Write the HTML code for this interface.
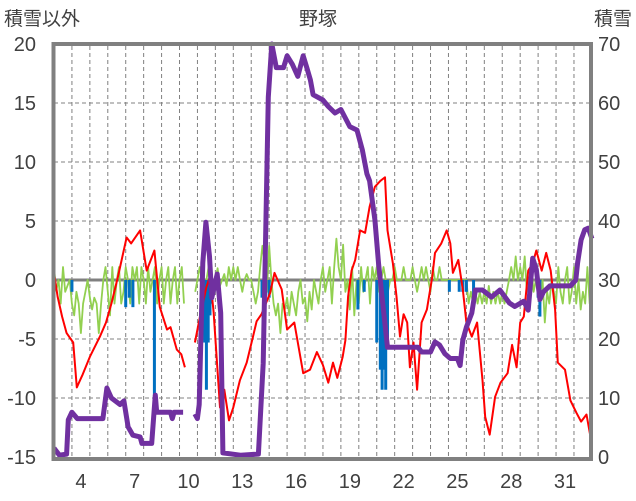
<!DOCTYPE html>
<html><head><meta charset="utf-8"><style>
html,body{margin:0;padding:0;background:#fff;}
svg{display:block;font-family:"Liberation Sans","Noto Sans CJK JP",sans-serif;}
</style></head><body>
<svg id="chart" width="636" height="501" viewBox="0 0 636 501" xmlns="http://www.w3.org/2000/svg">
<rect width="636" height="501" fill="#fff"/>
<text x="318" y="25" font-size="19" text-anchor="middle" fill="#404040">野塚</text>
<text x="4" y="25" font-size="19" fill="#404040">積雪以外</text>
<text x="632" y="25" font-size="19" text-anchor="end" fill="#404040">積雪</text>
<g id="grid"></g>
<g id="ticks"></g>
<g id="series"></g>
<rect x="53.5" y="44" width="537.5" height="415" fill="none" stroke="#808080" stroke-width="4"/>
</svg>
<script>
const leftTicks=[-15,-10,-5,0,5,10,15,20];
const rightTicks=[0,10,20,30,40,50,60,70];
const xTickLabels=[4,7,10,13,16,19,22,25,28,31];
const redT=[0,0.2,0.45,0.7,1.07,1.27,1.6,2.0,2.56,2.9,3.2,3.57,4.05,4.3,4.8,5.17,5.6,5.9,6.3,6.5,6.85,7.1,7.3,null,7.86,8.14,8.5,8.7,8.9,9.26,9.5,9.76,10.0,10.37,10.75,11.1,11.3,11.57,12.05,12.3,12.7,13.0,13.4,13.9,14.28,14.66,15.0,15.3,15.56,15.8,16.1,16.25,16.4,16.6,16.8,17.07,17.35,17.6,17.9,18.2,18.46,18.6,18.9,19.1,19.3,19.5,19.7,19.85,20.05,20.25,20.5,20.8,21.1,21.25,21.6,21.9,22.1,22.25,22.55,22.8,23.0,23.3,23.6,23.9,24.05,24.3,24.6,24.9,25.3,25.55,25.8,26.0,26.2,26.45,26.7,26.9,27.2,27.45,27.7,27.95,28.1,28.5,28.8,29.15,29.4,29.7,29.9,30.0];
const redV=[0.6,-1.4,-3.1,-4.5,-5.3,-9.1,-8,-6.5,-4.8,-3.6,-2,0.3,3.6,3.1,4.2,0.8,2.5,-2.3,-4.2,-4,-5.9,-6.3,-7.4,null,-5.3,-3.1,-0.6,0.3,-2.7,-10.8,-9.3,-11.9,-10.8,-8.5,-7,-4.8,-3.5,-2.9,-1.1,0.6,-0.8,-4.2,-3.6,-7.9,-7.6,-6.1,-7.2,-8.7,-7,-8.3,-6.5,-5.1,-1.4,0.8,1.7,4.2,4,6.2,7.9,8.4,8.7,4.2,1.4,-1.4,-4.8,-2.9,-3.6,-7.4,-5.3,-9.3,-3.6,-2.5,0.3,2.3,3.1,4.2,3.1,0.6,1.7,-0.8,-3.6,-4.8,-3.6,-8.5,-11.6,-13.1,-9.9,-8.7,-7.9,-5.5,-7.4,-3.6,-3.1,0.8,1.4,2.5,0.8,2.3,0.8,-2.5,-7,-7.6,-10.2,-11.3,-12,-11.4,-13.1,-13.5];
const snowT=[0,0.3,0.7,0.8,1.0,1.3,2.73,2.95,3.2,3.68,3.9,4.13,4.4,4.8,4.9,5.45,5.65,5.73,6.5,6.6,6.7,7.2,null,7.86,8.0,8.1,8.3,8.47,8.67,8.8,9.1,9.3,9.42,10.4,11.4,11.67,11.95,12.15,12.4,12.8,13.0,13.3,13.6,13.9,14.1,14.3,14.45,15.0,15.3,15.67,16.0,16.5,16.9,17.2,17.45,17.6,17.9,18.1,18.3,18.5,18.6,20.3,20.5,21.0,21.25,21.5,21.8,22.1,22.5,22.65,22.8,23.0,23.3,23.5,23.9,24.4,24.87,25.4,25.7,26.2,26.45,26.7,26.9,27.1,27.3,27.65,28.8,29.1,29.2,29.4,29.6,29.8,30.0];
const snowV=[1.5,0.3,0.5,6.3,7.6,6.5,6.5,11.7,10,8.9,9.5,5.1,3.7,3.4,2.3,2.3,10.5,7.6,7.6,6.5,7.6,7.6,null,7.3,6.5,8.9,32.9,39.8,34,27,31,24.4,0.7,0.3,0.5,15.9,61,70,66,66,68,66.5,64.5,68,66,63.9,61.4,60.5,59.4,58.3,58.9,56,55.4,52,48,46.8,40.2,32.9,27,21.4,18.6,18.6,17.8,17.8,19.5,19,17.5,16.7,16.7,15.5,19.8,22,24.4,28.3,28.3,27.1,28.3,26.1,25.5,26.4,24.9,33.7,31.8,26.7,28,29,29,30,32.9,36.8,38.5,38.8,37];
const greenV=[1.1,-0.9,0,-2,1.1,-1,-0.5,0,
-2,-3,-1,-2,-4.5,-2,-1,0,
-1.5,-2.5,-1.5,-2,-4.5,-2,0,1.1,
-1,-3,1.1,-2,0,1.1,-2,-1,
1.1,0,-2,1.1,0,1.1,-2,1.1,
0,-2,1.1,-1,0,1.1,-2,0,
1.1,-2,0,1.1,-2,0,1.1,-2,
0,1.1,-2,null,null,null,null,-1,
0,1.1,0,-1,0,1.1,0,-0.5,
0,1,-0.5,0,0.5,-0.5,1.1,0,
1.1,0,1.1,0,-1,0,0.5,0,
0,-1,-2,-1,1.1,2.9,1.5,-1,
2.9,0,-2,-3,-2,-4.5,-2,-2.5,
-1.5,-3,-1,-2,-3,-1,0,-2,
-1.5,-3.5,-1,-2.5,0,-1,-2,0,
1.1,-1,0,1.1,-2,1.1,3.5,1.1,
0,3,-1,0,-2.5,1.1,-3,0,
-2,1.1,-1,0,1.1,-2,1.1,0,
1.1,-1,0,1.1,0,-1,0,0,
1.1,0,0,0,1.1,0,0,0,
1.1,0,-1,0,1.1,0,1.1,0,
-1,1.1,0,0,1.1,0,0,0,
0,0,0,0,0,0,0,0,
0,-2,-1,-2,-1,-2,-1,-2,
-1,-2,-0.5,-2,-1,-2,-1,-2,
-1,-2,-1,0,1.1,0,2,0,
1.1,0,2,-1,0,1.1,-1,0,
-1,-2,0,-3.6,-1,-2,0,-1,
-2,1.1,-1,-2,0,1.1,-2,-1,
1.1,-2,0,-2.5,-1,-2,1.1,-2,
1.1];
const greenStep=0.125;
const barT=[1.0,4.0,4.2,4.4,5.6,8.4,8.5,8.6,8.7,8.8,11.6,11.8,12.0,16.95,17.3,18.0,18.2,18.3,18.4,18.5,18.6,22.05,22.6,22.8,23.0,23.4,27.0,27.1];
const barV=[-1,-2.3,-1.5,-2.3,-9.9,-5.3,-9.3,-5.3,-3,-2,-1.5,-1,-1.5,-2.5,-1,-5.3,-7.6,-9.3,-7.6,-9.3,-5,-1,-1,-1,-1,-1.5,-1.5,-3.1];

const NS='http://www.w3.org/2000/svg';
const xs=t=>54+t*17.93;
const yl=v=>280-v*11.8;
const yr=s=>457-s*5.9;
function mk(tag,attrs,parent){const e=document.createElementNS(NS,tag);for(const k in attrs)e.setAttribute(k,attrs[k]);parent.appendChild(e);return e;}
const grid=document.getElementById('grid'),ticks=document.getElementById('ticks'),series=document.getElementById('series');
leftTicks.forEach(v=>{
  if(v!==0&&v!==20&&v!==-15){const l=mk('line',{x1:54,x2:591,y1:yl(v),y2:yl(v),stroke:'#808080','stroke-width':1,'stroke-dasharray':'4,3'},grid);
  
  }
  const t=mk('text',{x:36,y:yl(v)+7,'font-size':20,'text-anchor':'end',fill:'#404040'},ticks);t.textContent=v;
  
  
});
rightTicks.forEach(s=>{
  const t=mk('text',{x:598,y:yr(s)+7,'font-size':20,fill:'#404040'},ticks);t.textContent=s;
  
  
});
for(let d=1;d<30;d++){
  const l=mk('line',{x1:xs(d),x2:xs(d),y1:46,y2:457,stroke:'#808080','stroke-width':1,'stroke-dasharray':'4,3'},grid);
  
  
}
xTickLabels.forEach(d=>{
  const t=mk('text',{x:xs(d-3+0.5),y:488,'font-size':20,'text-anchor':'middle',fill:'#404040'},ticks);t.textContent=d;
  
  
});
const zl=mk('line',{x1:54,x2:591,y1:yl(0),y2:yl(0),stroke:'#808080','stroke-width':3},grid);


function pathFrom(ts,vs,yf){let d='',pen=false;for(let i=0;i<ts.length;i++){if(ts[i]===null||vs[i]===null){pen=false;continue;}d+=(pen?'L':'M')+xs(ts[i]).toFixed(1)+','+yf(vs[i]).toFixed(1);pen=true;}return d;}
const gT=greenV.map((v,i)=>i*greenStep);
const g=mk('path',{d:pathFrom(gT,greenV,yl),fill:'none',stroke:'#92d050','stroke-width':1.8,'stroke-linejoin':'round'},series);


barT.forEach((t,i)=>{
  const b=mk('rect',{x:xs(t)-1.5,y:yl(0),width:3,height:yl(barV[i])-yl(0),fill:'#0070c0'},series);
  
  
});
const r=mk('path',{d:pathFrom(redT,redV,yl),fill:'none',stroke:'#ff0000','stroke-width':2,'stroke-linejoin':'round'},series);


const p=mk('path',{d:pathFrom(snowT,snowV,yr),fill:'none',stroke:'#7030a0','stroke-width':5,'stroke-linejoin':'round'},series);


</script>
</body></html>
